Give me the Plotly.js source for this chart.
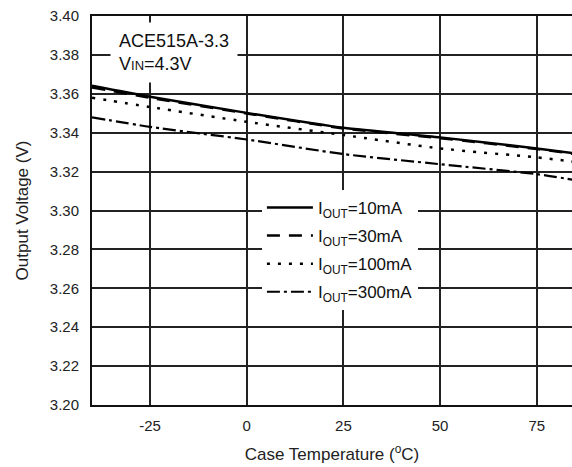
<!DOCTYPE html>
<html>
<head>
<meta charset="utf-8">
<script src="https://cdn.plot.ly/plotly-3.0.1.min.js"></script>
<style>html,body{margin:0;padding:0;background:#fff;}#chart{width:572px;height:467px;}</style>
</head>
<body>
<div id="chart"></div>
<script>
const temps = [-40, -25, 0, 25, 50, 75, 85];
const v10mA = [3.3641, 3.3585, 3.3502, 3.3425, 3.3376, 3.3319, 3.3293];
const v30mA = [3.3633, 3.3579, 3.3499, 3.3422, 3.3372, 3.3316, 3.3290];
const v100mA = [3.3580, 3.3532, 3.3456, 3.3388, 3.3319, 3.3273, 3.3250];
const v300mA = [3.3479, 3.3430, 3.3365, 3.3290, 3.3238, 3.3187, 3.3156];
const seriesNames = ['I<sub>OUT</sub>=10mA', 'I<sub>OUT</sub>=30mA', 'I<sub>OUT</sub>=100mA', 'I<sub>OUT</sub>=300mA'];
const xTicks = [-25, 0, 25, 50, 75];
const yTicks = [3.20, 3.22, 3.24, 3.26, 3.28, 3.30, 3.32, 3.34, 3.36, 3.38, 3.40];

const dashes = ['solid', '13px,9px', '3px,8px', '13px,4px,3px,4px'];
const widths = [2.5, 2.5, 2.5, 2.2];
const ys = [v10mA, v30mA, v100mA, v300mA];

const traces = ys.map((y, i) => ({
  x: temps, y: y, type: 'scatter', mode: 'lines',
  name: seriesNames[i], legendgroup: 'g' + i,
  line: {color: '#000', width: widths[i], dash: dashes[i], shape: 'spline', smoothing: 0.6}
}));

const font = 'Liberation Sans, Arial, sans-serif';
const layout = {
  width: 572, height: 467,
  margin: {l: 92, r: 0, t: 16, b: 62},
  paper_bgcolor: '#fff', plot_bgcolor: '#fff',
  font: {family: font, color: '#222', size: 15},
  showlegend: true,
  legend: {
    x: 0.354, y: 0.553, xanchor: 'left', yanchor: 'top',
    bgcolor: '#fff', borderwidth: 0,
    font: {family: font, size: 17, color: '#111'},
    traceorder: 'grouped', tracegroupgap: 3, itemwidth: 46
  },
  xaxis: {
    range: [-40, 84.1], tickvals: xTicks, ticktext: xTicks.map(String),
    showgrid: true, gridcolor: '#222', gridwidth: 2,
    showline: true, linecolor: '#111', linewidth: 2, mirror: true,
    zeroline: false, ticks: '', ticklabelstandoff: 6,
    tickfont: {size: 15, color: '#222'},
    title: {text: 'Case Temperature (<sup>o</sup>C)', font: {size: 17, color: '#222'}, standoff: 15}
  },
  yaxis: {
    range: [3.20, 3.40], tickvals: yTicks, ticktext: yTicks.map(v => v.toFixed(2)),
    showgrid: true, gridcolor: '#222', gridwidth: 2,
    showline: true, linecolor: '#111', linewidth: 2, mirror: false,
    zeroline: false, ticks: '', ticklabelstandoff: 8,
    tickfont: {size: 15, color: '#222'},
    title: {text: 'Output Voltage (V)', font: {size: 17, color: '#222'}, standoff: 17}
  },
  annotations: [{
    xref: 'paper', yref: 'paper', x: 0.0375, y: 0.9846, xanchor: 'left', yanchor: 'top',
    text: 'ACE515A-3.3<br>V<span style="font-size:13px">IN</span>=4.3V',
    align: 'left', showarrow: false, bgcolor: '#fff', borderpad: 8,
    font: {family: font, size: 18, color: '#111'}
  }]
};

Plotly.newPlot('chart', traces, layout, {displayModeBar: false, staticPlot: true});
</script>
</body>
</html>
